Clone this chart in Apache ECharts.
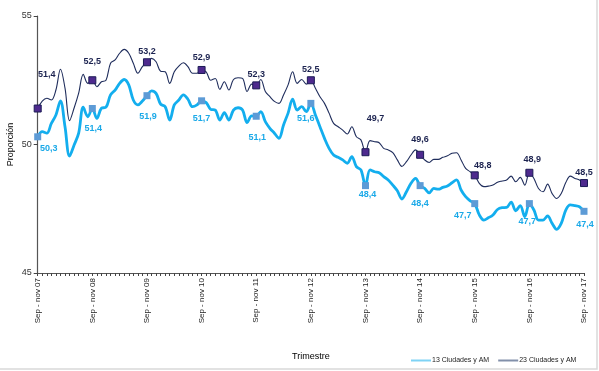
<!DOCTYPE html>
<html><head><meta charset="utf-8">
<script src="https://cdn.jsdelivr.net/npm/echarts@6/dist/echarts.min.js"></script>
<style>html,body{margin:0;padding:0;background:#fff}#c{width:599px;height:371px}</style>
</head><body><div id="c"></div>
<script>
// Rolling-quarter windows (start month - end month)
const windows = ["Sep - nov","Oct - dic","Nov - ene","Dic - feb","Ene - mar","Feb - abr","Mar - may","Abr - jun","May - jul","Jun - ago","Jul - sep","Ago - oct"];
const firstYear = 7, lastYear = 17;
const seriesNames = ["13 Ciudades y AM", "23 Ciudades y AM"];

const ciudades13 = [
50.3,50.5,50.44,50.82,51.15,51.7,50.69,49.55,49.98,50.44,51.45,51.08,
51.4,51.02,51.41,51.45,51.93,52.12,52.38,52.53,52.32,51.73,51.54,51.69,
51.9,52.09,51.99,51.57,51.47,50.95,51.54,51.73,51.93,51.76,51.47,51.54,
51.7,51.63,51.37,51.34,50.95,51.24,50.95,51.34,51.43,51.34,50.85,51.11,
51.1,51.28,50.89,50.63,50.44,50.24,50.76,51.22,51.76,51.34,51.47,51.28,
51.6,51.15,50.69,50.24,49.85,49.59,49.5,49.4,49.27,49.53,49.14,49.01,
48.4,49.01,48.94,48.9,48.75,48.62,48.42,48.2,47.88,48.16,48.49,48.68,
48.4,48.29,48.12,48.29,48.26,48.33,48.39,48.51,48.62,48.23,47.97,47.81,
47.7,47.26,47.06,47.15,47.26,47.47,47.54,47.55,47.76,47.42,47.62,47.19,
47.7,47.45,47.06,47.06,47.22,46.93,46.7,46.93,47.45,47.65,47.62,47.58,
47.4];

const ciudades23 = [
51.4,51.69,51.8,51.73,52.12,52.93,52.19,50.93,51.42,52.0,52.73,52.38,
52.5,52.25,52.44,52.5,53.16,53.29,53.55,53.7,53.55,53.16,52.77,53.03,
53.2,53.35,53.22,52.85,52.83,52.38,52.83,53.05,53.18,53.03,52.77,52.77,
52.9,52.83,52.5,52.57,52.15,52.44,52.12,52.53,52.6,52.57,52.06,52.35,
52.3,52.53,52.06,51.86,51.68,51.6,51.93,52.32,52.83,52.38,52.53,52.35,
52.5,52.19,51.86,51.6,51.22,50.82,50.69,50.56,50.41,50.69,50.3,50.18,
49.7,50.15,50.11,50.07,49.85,49.79,49.68,49.4,49.15,49.33,49.59,49.79,
49.6,49.4,49.3,49.42,49.42,49.5,49.56,49.66,49.68,49.4,49.07,48.94,
48.8,48.49,48.36,48.38,48.42,48.53,48.58,48.62,48.77,48.55,48.72,48.42,
48.9,48.68,48.29,48.16,48.46,48.09,47.9,48.09,48.52,48.77,48.68,48.62,
48.5];

const yTicks = [45, 50, 55];

// Build category labels ("Sep - nov 07", "Oct - dic 07", "Nov - ene 08", ...)
const categories = [];
for (let y = firstYear; y <= lastYear; y++) {
  for (let m = 0; m < windows.length; m++) {
    if (y === lastYear && m > 0) break;
    const yy = m >= 2 ? y + 1 : y;
    categories.push(windows[m] + " " + String(yy).padStart(2, "0"));
  }
}

// Style: label offsets for the yearly markers (every 12th point)
const lightLabelOffsets = [[11,12],[1,20],[1,21],[0,18],[1,21],[-5,15],[2,9],[0,18],[-12,12],[-2,18],[1,13]];
const darkLabelOffsets  = [[9,-34],[0,-19],[0,-11],[0,-12],[0,-11],[0,-11],[10,-34],[0,-15],[8,-10],[3,-13],[0,-11]];

const fmt = v => v.toFixed(1).replace('.', ',');

function buildData(values, offsets, labelColor) {
  return values.map((v, i) => {
    if (i % 12 === 0) {
      const k = i / 12;
      return { value: v, symbol: 'rect', label: { show: true, position: 'inside', offset: offsets[k], color: labelColor,
        formatter: p => fmt(p.value) } };
    }
    return { value: v, symbol: 'none' };
  });
}

const chart = echarts.init(document.getElementById('c'), null, { renderer: 'canvas' });
chart.setOption({
  animation: false,
  backgroundColor: '#fff',
  textStyle: { fontFamily: 'Liberation Sans, Arial, sans-serif' },
  grid: { left: 37.7, right: 15, top: 16, bottom: 98, containLabel: false, outerBoundsMode: 'none' },
  graphic: [{ type: 'rect', shape: { x: -2, y: -2, width: 599, height: 371 }, style: { fill: 'none', stroke: '#d9d9d9', lineWidth: 1.5 }, silent: true }],
  legend: {
    left: 406, top: 352, itemWidth: 20, itemHeight: 2, itemGap: 9, icon: 'rect',
    textStyle: { fontSize: 7, color: '#222', padding: [0, 0, 0, -4] },
    data: [
      { name: seriesNames[0], itemStyle: { color: '#7fd3f5', borderWidth: 0 } },
      { name: seriesNames[1], itemStyle: { color: '#8290aa', borderWidth: 0 } }
    ]
  },
  xAxis: {
    type: 'category', data: categories, boundaryGap: false,
    name: 'Trimestre', nameLocation: 'middle', nameGap: 79, nameMoveOverlap: false,
    nameTextStyle: { fontSize: 9, color: '#000' },
    axisLine: { lineStyle: { color: '#555', width: 1.2 } },
    axisTick: { show: true, interval: 0, length: 3, lineStyle: { color: '#444' } },
    axisLabel: { interval: 11, rotate: 90, fontSize: 8, color: '#222', margin: 5 },
    splitLine: { show: false }
  },
  yAxis: {
    type: 'value', min: yTicks[0], max: yTicks[yTicks.length - 1], interval: 5,
    name: 'Proporción', nameLocation: 'middle', nameGap: 23, nameMoveOverlap: false,
    nameTextStyle: { fontSize: 9, color: '#000' },
    axisLine: { show: true, lineStyle: { color: '#555', width: 1.2 } },
    axisTick: { show: true, length: 4, lineStyle: { color: '#444' } },
    axisLabel: { fontSize: 9, color: '#333', margin: 6 },
    splitLine: { show: false }
  },
  series: [
    {
      name: seriesNames[0], type: 'line', smooth: 0.35, showAllSymbol: true, symbolSize: 7,
      z: 3,
      lineStyle: { color: '#13aeee', width: 2.8 },
      itemStyle: { color: '#5d9bd6', borderWidth: 0 },
      label: { fontSize: 9, fontWeight: 'bold', color: '#1aa9e8' },
      data: buildData(ciudades13, lightLabelOffsets, '#1aa9e8')
    },
    {
      name: seriesNames[1], type: 'line', smooth: 0.35, showAllSymbol: true, symbolSize: 7,
      z: 4,
      lineStyle: { color: '#1f2d5c', width: 1.1 },
      itemStyle: { color: '#4e2a8e', borderColor: '#1b1b55', borderWidth: 1 },
      label: { fontSize: 9, fontWeight: 'bold', color: '#1c2350' },
      data: buildData(ciudades23, darkLabelOffsets, '#1c2350')
    }
  ]
});
</script></body></html>
